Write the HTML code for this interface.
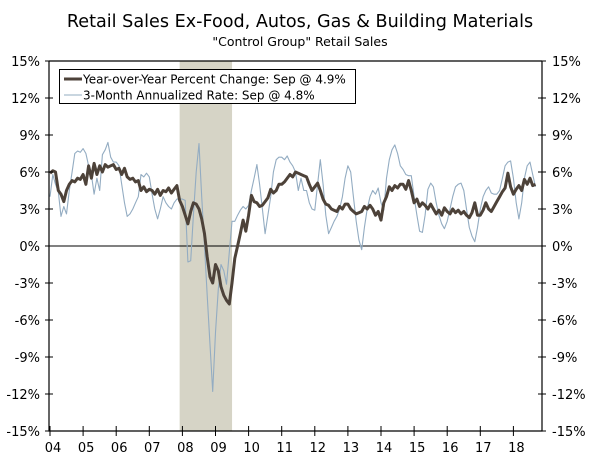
<!DOCTYPE html>
<html><head><meta charset="utf-8"><style>
body{margin:0;background:#fff;}
svg{display:block;font-family:"DejaVu Sans","Liberation Sans",sans-serif;}
</style></head><body>
<svg id="chart" width="600" height="458">
<text x="300" y="27" text-anchor="middle" font-size="17.6" fill="#000">Retail Sales Ex-Food, Autos, Gas &amp; Building Materials</text>
<text x="300" y="46" text-anchor="middle" font-size="12.5" fill="#000">"Control Group" Retail Sales</text>
<g id="plot"></g>
</svg>
<script>
const years=["04","05","06","07","08","09","10","11","12","13","14","15","16","17","18"];
const yTicks=[15,12,9,6,3,0,-3,-6,-9,-12,-15];
const recessionStart=47, recessionEnd=66;
const yoy=[
5.9,6.1,6.0,4.5,4.2,3.6,4.5,5.0,5.3,5.2,5.5,5.4,
5.8,5.0,6.5,5.5,6.7,5.8,6.5,6.0,6.6,6.4,6.5,6.6,
6.2,6.3,5.8,6.3,5.6,5.4,5.5,5.2,5.3,4.5,4.8,4.4,
4.6,4.5,4.2,4.6,4.1,4.5,4.4,4.7,4.3,4.6,4.9,3.7,
3.2,2.5,1.8,2.8,3.5,3.4,3.0,2.2,1.0,-0.9,-2.5,-3.0,
-1.5,-2.0,-3.3,-4.0,-4.4,-4.7,-3.0,-1.0,0.0,1.0,2.1,1.2,
2.5,4.1,3.6,3.5,3.2,3.3,3.6,3.9,4.6,4.3,4.5,5.0,
5.0,5.2,5.5,5.8,5.6,6.0,5.9,5.8,5.7,5.6,5.0,4.5,
4.8,5.1,4.5,3.8,3.4,3.3,3.0,2.9,2.8,3.2,3.0,3.4,
3.4,3.0,2.8,2.6,2.7,2.8,3.2,3.0,3.3,3.0,2.5,2.8,
2.1,3.5,4.0,4.8,4.5,4.9,4.7,5.0,5.0,4.6,5.3,4.5,
3.5,3.8,3.2,3.5,3.3,3.0,3.4,3.0,2.6,2.9,2.5,3.1,
2.8,2.6,3.0,2.7,2.9,2.6,2.8,2.5,2.3,2.7,3.5,2.5,
2.5,2.9,3.5,3.0,2.8,3.2,3.6,4.0,4.4,4.7,5.9,4.8,
4.2,4.6,4.9,4.5,5.4,5.0,5.5,4.9,5.0];
const ann3m=[
4.0,5.8,5.0,4.4,2.4,3.2,2.6,4.5,6.0,7.5,7.7,7.6,
7.9,7.5,6.5,5.8,4.2,5.5,4.5,7.4,7.8,8.4,7.2,6.8,
6.8,6.5,5.0,3.5,2.4,2.6,3.0,3.5,4.0,5.8,5.6,5.9,
5.6,4.2,3.0,2.2,3.0,4.0,3.5,3.2,3.0,3.5,3.8,3.8,
3.8,3.7,-1.3,-1.2,2.5,6.0,8.3,4.0,0.0,-4.0,-8.0,-11.8,
-7.0,-3.5,-1.5,-2.0,-3.1,-0.5,2.0,2.0,2.5,2.9,3.2,3.0,
3.3,4.5,5.5,6.6,5.0,3.0,1.0,2.5,4.0,6.0,7.0,7.2,
7.2,7.0,7.3,6.8,6.5,6.0,4.5,5.5,4.5,4.5,3.5,3.0,
2.9,5.0,7.0,5.0,2.5,1.0,1.5,2.0,2.4,3.0,4.0,5.5,
6.5,6.0,4.0,2.0,0.5,-0.3,1.5,3.0,4.0,4.5,4.2,4.7,
3.5,2.9,5.5,7.0,7.8,8.2,7.5,6.5,6.2,5.8,5.7,5.7,
4.0,2.5,1.2,1.1,2.5,4.6,5.1,4.8,3.5,2.5,1.8,1.4,
2.0,3.0,4.0,4.8,5.0,5.1,4.5,3.0,1.5,0.8,0.35,1.5,
3.0,4.0,4.5,4.8,4.3,4.2,4.2,4.5,5.5,6.5,6.8,6.9,
5.5,3.5,2.2,3.5,5.5,6.5,6.8,5.8,4.8];

const L=49,R=542,T=61,B=431,x0=50,yearW=33.1;
const xS=m=>x0+m*yearW/12;
const yS=v=>T+(15-v)*(B-T)/30;
const NS="http://www.w3.org/2000/svg";
const g=document.getElementById('plot');
function mk(tag,attrs){const e=document.createElementNS(NS,tag);for(const k in attrs)e.setAttribute(k,attrs[k]);g.appendChild(e);return e;}

const rec=mk('rect',{x:xS(recessionStart),y:T,width:xS(recessionEnd)-xS(recessionStart),height:B-T,fill:'#d6d4c6'});



const zl=mk('line',{x1:L,x2:R,y1:yS(0),y2:yS(0),stroke:'#000','stroke-width':1});



function path(arr,color,w,name){
  let d='';arr.forEach((v,i)=>{d+=(i?'L':'M')+xS(i).toFixed(1)+','+yS(v).toFixed(1);});
  const p=mk('path',{d:d,fill:'none',stroke:color,'stroke-width':w,'stroke-linejoin':'round'});
  
  
}
path(ann3m,'#93acc2',1.1,'three-month-annualized-line');
path(yoy,'#4d4239',3,'year-over-year-line');

const fr=mk('path',{d:`M${L},${T}H${R}M${L},${T}V${B}H${R}V${T}`,fill:'none',stroke:'#000','stroke-width':1.2});



yTicks.forEach(v=>{
  const y=yS(v);
  mk('line',{x1:L-4,x2:L+4,y1:y,y2:y,stroke:'#000'});
  mk('line',{x1:R-4,x2:R+4,y1:y,y2:y,stroke:'#000'});
  const t1=mk('text',{x:40,y:y+5,'text-anchor':'end','font-size':13,fill:'#000'});
  t1.textContent=v+'%';
  
  
  const t2=mk('text',{x:552,y:y+5,'text-anchor':'start','font-size':13,fill:'#000'});
  t2.textContent=v+'%';
  
  
});
years.forEach((yr,i)=>{
  const x=xS(i*12);
  mk('line',{x1:x,x2:x,y1:B-5,y2:B+5,stroke:'#000'});
  const t=mk('text',{x:x+3,y:B+21,'text-anchor':'middle','font-size':13,fill:'#000'});
  t.textContent=yr;
  
  
});

const lg=mk('rect',{x:59.5,y:69.5,width:296,height:34,fill:'#fff',stroke:'#000'});


mk('line',{x1:64,x2:82,y1:79,y2:79,stroke:'#4d4239','stroke-width':3});
mk('line',{x1:64,x2:82,y1:95,y2:95,stroke:'#93acc2','stroke-width':1.1});
const l1=mk('text',{x:83,y:83.5,'font-size':12,fill:'#000'});
l1.textContent='Year-over-Year Percent Change: Sep @ 4.9%';


const l2=mk('text',{x:83,y:99.5,'font-size':12,fill:'#000'});
l2.textContent='3-Month Annualized Rate: Sep @ 4.8%';


</script>
</body></html>
